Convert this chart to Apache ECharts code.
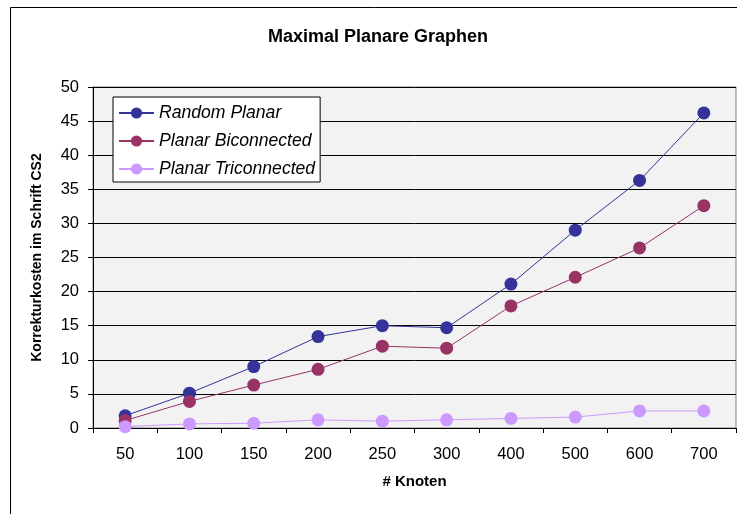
<!DOCTYPE html>
<html>
<head>
<meta charset="utf-8">
<script src="https://cdn.jsdelivr.net/npm/echarts@6/dist/echarts.min.js"></script>
<style>
  html, body { margin: 0; padding: 0; background: #fff; }
  #chart { width: 737px; height: 514px; }
</style>
</head>
<body>
<div id="chart"></div>
<script>
var categories = ['50', '100', '150', '200', '250', '300', '400', '500', '600', '700'];
var randomPlanar = [1.8, 5.1, 9.0, 13.4, 15.0, 14.7, 21.1, 29.0, 36.3, 46.2];
var planarBiconnected = [1.1, 3.9, 6.3, 8.6, 12.0, 11.7, 17.9, 22.1, 26.4, 32.6];
var planarTriconnected = [0.2, 0.6, 0.7, 1.2, 1.0, 1.2, 1.4, 1.6, 2.5, 2.5];
var yTicks = { min: 0, max: 50, interval: 5 };

var font = 'Liberation Sans, Arial, sans-serif';
var chart = echarts.init(document.getElementById('chart'), null, { renderer: 'canvas' });

function mkSeries(name, data, color) {
  return {
    name: name,
    type: 'line',
    data: data,
    symbol: 'circle',
    symbolSize: 13,
    lineStyle: { color: color, width: 1 },
    itemStyle: { color: color },
    emphasis: { disabled: true },
    animation: false
  };
}

chart.setOption({
  animation: false,
  backgroundColor: '#ffffff',
  graphic: [{
    type: 'rect',
    shape: { x: 10.5, y: 7.5, width: 800, height: 600 },
    style: { fill: 'none', stroke: '#000', lineWidth: 1 },
    z: -10
  }],
  title: {
    text: 'Maximal Planare Graphen',
    left: 373,
    top: 23,
    textAlign: 'center',
    textStyle: { fontFamily: font, fontSize: 18, fontWeight: 'bold', color: '#000' }
  },
  legend: {
    orient: 'vertical',
    left: 113,
    top: 97,
    padding: [6, 5, 3, 5],
    itemWidth: 35,
    itemHeight: 14,
    itemGap: 8,
    backgroundColor: '#ffffff',
    borderColor: '#000',
    borderWidth: 1,
    textStyle: { fontFamily: font, fontSize: 17.6, fontStyle: 'italic', color: '#000', lineHeight: 20 },
    data: ['Random Planar', 'Planar Biconnected', 'Planar Triconnected']
  },
  grid: {
    left: 93, right: 1, top: 87, bottom: 86,
    show: true,
    backgroundColor: '#f2f2f2',
    borderColor: '#808080',
    borderWidth: 1
  },
  xAxis: {
    type: 'category',
    data: categories,
    boundaryGap: true,
    name: '# Knoten',
    nameLocation: 'middle',
    nameGap: 46,
    nameTextStyle: { fontFamily: font, fontSize: 15, fontWeight: 'bold', color: '#000' },
    axisLine: { lineStyle: { color: '#000', width: 1 } },
    axisTick: { show: true, length: 5, alignWithLabel: false, lineStyle: { color: '#000' } },
    axisLabel: { fontFamily: font, fontSize: 16.5, color: '#000', margin: 18 },
    splitLine: { show: false }
  },
  yAxis: {
    type: 'value',
    min: yTicks.min,
    max: yTicks.max,
    interval: yTicks.interval,
    name: 'Korrekturkosten im Schrift CS2',
    nameLocation: 'middle',
    nameRotate: 90,
    nameGap: 49,
    nameTextStyle: { fontFamily: font, fontSize: 14, fontWeight: 'bold', color: '#000' },
    axisLine: { show: true, lineStyle: { color: '#000', width: 1 } },
    axisTick: { show: true, length: 5, lineStyle: { color: '#000' } },
    axisLabel: { fontFamily: font, fontSize: 16.5, color: '#000', margin: 14 },
    splitLine: { show: true, lineStyle: { color: '#000', width: 1 } }
  },
  series: [
    mkSeries('Random Planar', randomPlanar, '#333399'),
    mkSeries('Planar Biconnected', planarBiconnected, '#993366'),
    mkSeries('Planar Triconnected', planarTriconnected, '#cc99ff')
  ]
});
</script>
</body>
</html>
